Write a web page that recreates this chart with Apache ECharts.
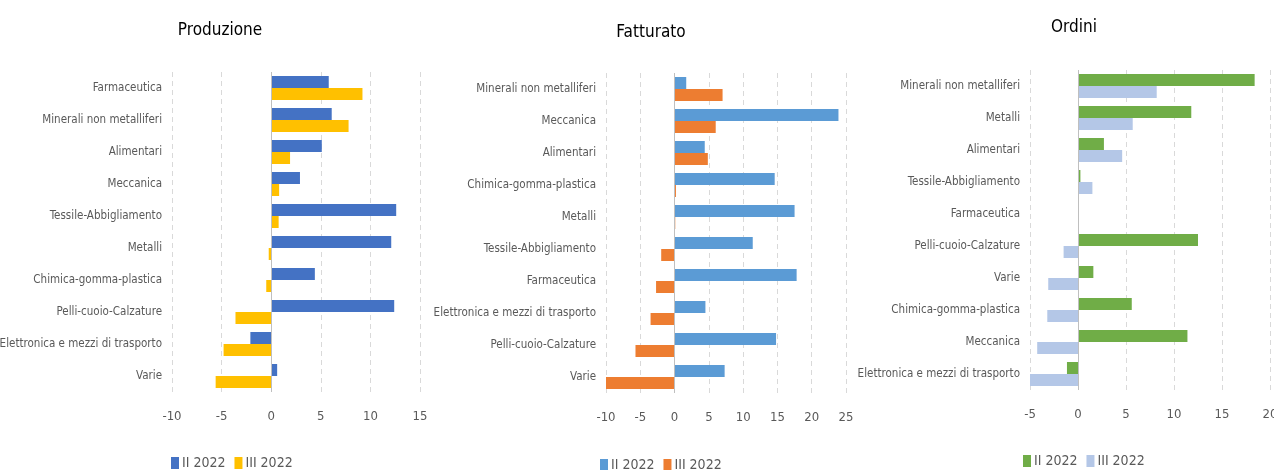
<!DOCTYPE html>
<html lang="it">
<head>
    <meta charset="UTF-8">
    <title>Produzione, Fatturato, Ordini</title>
    <script src="https://cdn.jsdelivr.net/npm/echarts@6/dist/echarts.min.js"></script>
    <style>
        html, body { margin: 0; padding: 0; background: #fff; }
    </style>
</head>
<body>
<div id="main" style="width: 1274px;height:470px;"></div>
<script type="text/javascript">
    // categorie (dall'alto verso il basso) e valori per ciascun pannello
    var catProduzione = ['Farmaceutica', 'Minerali non metalliferi', 'Alimentari', 'Meccanica', 'Tessile-Abbigliamento',
        'Metalli', 'Chimica-gomma-plastica', 'Pelli-cuoio-Calzature', 'Elettronica e mezzi di trasporto', 'Varie'];
    var prodII = [5.8, 6.1, 5.1, 2.9, 12.6, 12.1, 4.4, 12.4, -2.1, 0.6];
    var prodIII = [9.2, 7.8, 1.9, 0.8, 0.75, -0.25, -0.5, -3.6, -4.8, -5.6];

    var catFatturato = ['Minerali non metalliferi', 'Meccanica', 'Alimentari', 'Chimica-gomma-plastica', 'Metalli',
        'Tessile-Abbigliamento', 'Farmaceutica', 'Elettronica e mezzi di trasporto', 'Pelli-cuoio-Calzature', 'Varie'];
    var fattII = [1.7, 23.9, 4.4, 14.6, 17.5, 11.4, 17.8, 4.5, 14.8, 7.3];
    var fattIII = [7.0, 6.0, 4.85, 0.2, 0.1, -1.95, -2.7, -3.5, -5.7, -10];

    var catOrdini = ['Minerali non metalliferi', 'Metalli', 'Alimentari', 'Tessile-Abbigliamento', 'Farmaceutica',
        'Pelli-cuoio-Calzature', 'Varie', 'Chimica-gomma-plastica', 'Meccanica', 'Elettronica e mezzi di trasporto'];
    var ordII = [18.4, 11.8, 2.7, 0.25, 0.1, 12.5, 1.6, 5.6, 11.4, -1.15];
    var ordIII = [8.2, 5.7, 4.6, 1.5, 0.1, -1.5, -3.1, -3.2, -4.25, -5.0];

    var titoli = ['Produzione', 'Fatturato', 'Ordini'];
    var serieNomi = ['II 2022', 'III 2022'];

    var font = "'Liberation Sans Narrow', 'DejaVu Sans Condensed', sans-serif";
    var grigio = '#595959';

    var pannelli = [
        {cat: catProduzione, a: prodII, b: prodIII, min: -10, max: 15, colori: ['#4472C4', '#FFC000'],
            left: 172, top: 72, width: 248, titleX: 215, titleY: 17, legX: 166, legY: 451},
        {cat: catFatturato, a: fattII, b: fattIII, min: -10, max: 25, colori: ['#5B9BD5', '#ED7D31'],
            left: 606, top: 73, width: 240, titleX: 646, titleY: 19, legX: 595, legY: 453},
        {cat: catOrdini, a: ordII, b: ordIII, min: -5, max: 20, colori: ['#70AD47', '#B4C7E7'],
            left: 1030, top: 70, width: 240, titleX: 1069, titleY: 14, legX: 1018, legY: 449}
    ];

    var myChart = echarts.init(document.getElementById('main'));

    var option = {
        backgroundColor: '#ffffff',
        animation: false,
        title: [], legend: [], grid: [], xAxis: [], yAxis: [], series: []
    };

    for (var i = 0; i < pannelli.length; i++) {
        var p = pannelli[i];
        option.title.push({
            text: titoli[i],
            left: p.titleX, top: p.titleY,
            textAlign: 'center',
            textStyle: {fontFamily: font, fontSize: 17, fontWeight: 'normal', color: '#000'}
        });
        option.legend.push({
            left: p.legX, top: p.legY,
            itemWidth: 8, itemHeight: 12, itemGap: 9,
            icon: 'rect',
            data: ['p' + i + '_0', 'p' + i + '_1'],
            formatter: function (name) { return serieNomi[+name.split('_')[1]]; },
            textStyle: {fontFamily: font, fontSize: 14, color: grigio, padding: [0, 0, 0, -2]}
        });
        option.grid.push({
            left: p.left, top: p.top, width: p.width, height: 320,
            containLabel: false, outerBoundsMode: 'none'
        });
        option.xAxis.push({
            type: 'value', gridIndex: i,
            min: p.min, max: p.max, interval: 5,
            axisLine: {show: false}, axisTick: {show: false},
            axisLabel: {color: grigio, fontFamily: font, fontSize: 13, margin: 18},
            splitLine: {show: true, lineStyle: {color: '#d9d9d9', type: [5, 4], width: 1}}
        });
        option.yAxis.push({
            type: 'category', gridIndex: i, inverse: true,
            data: p.cat,
            axisLine: {show: false}, axisTick: {show: false},
            axisLabel: {color: grigio, fontFamily: font, fontSize: 11.5, margin: 10}
        });
        option.series.push({
            name: 'p' + i + '_0', type: 'bar', xAxisIndex: i, yAxisIndex: i,
            data: p.a, barGap: '0%', barCategoryGap: '25%',
            itemStyle: {color: p.colori[0]},
            markLine: {
                silent: true, symbol: 'none', label: {show: false},
                lineStyle: {color: '#bfbfbf', type: 'solid', width: 1},
                data: [{xAxis: 0}]
            }
        });
        option.series.push({
            name: 'p' + i + '_1', type: 'bar', xAxisIndex: i, yAxisIndex: i,
            data: p.b, barGap: '0%', barCategoryGap: '25%',
            itemStyle: {color: p.colori[1]}
        });
    }

    myChart.setOption(option);
</script>
</body>
</html>
